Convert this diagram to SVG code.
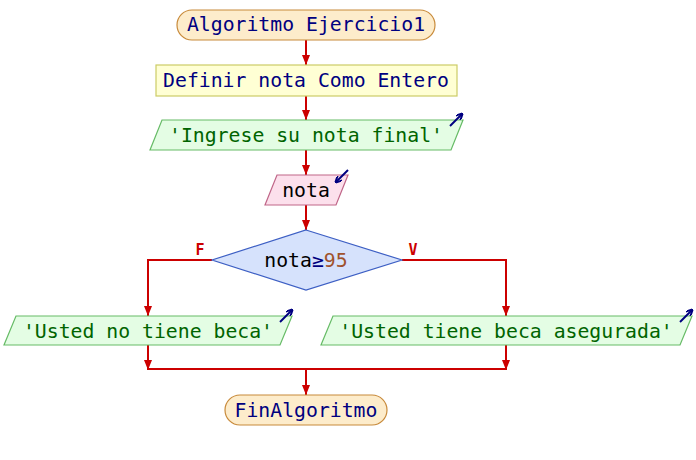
<svg xmlns="http://www.w3.org/2000/svg" width="696" height="460" viewBox="0 0 696 460">
<defs>
<marker id="ah" markerWidth="10" markerHeight="8" refX="10" refY="4" orient="auto" markerUnits="userSpaceOnUse">
<path d="M0,0 L10,4 L0,8 Z" fill="#cc0000"/>
</marker>
<marker id="io" markerWidth="7" markerHeight="7" refX="6" refY="3.5" orient="auto" markerUnits="userSpaceOnUse">
<path d="M0,0 L7,3.5 L0,7" fill="none" stroke="#000080" stroke-width="2"/>
</marker>
</defs>
<style>
text{font-family:"DejaVu Sans Mono","Liberation Mono",monospace;font-size:19.8px;text-anchor:middle}
.term{fill:#fdeccb;stroke:#c88a3a;stroke-width:1.2}
.def{fill:#ffffd4;stroke:#cccc66;stroke-width:1.2}
.out{fill:#e4fde4;stroke:#66bb66;stroke-width:1.2}
.inp{fill:#fce0ec;stroke:#c06688;stroke-width:1.2}
.dec{fill:#d6e2fc;stroke:#3d5fc4;stroke-width:1.2}
.navy{fill:#000080}
.green{fill:#006400}
.blk{fill:#000}
.ico{stroke:#000080;stroke-width:2;fill:none;marker-end:url(#io)}
.c{stroke:#cc0000;stroke-width:2;fill:none}
.ca{stroke:#cc0000;stroke-width:2;fill:none;marker-end:url(#ah)}
.lbl{fill:#cc0000;font-size:15px;font-weight:bold}
</style>
<g id="connectors">
<line class="ca" x1="306" y1="40" x2="306" y2="65"/>
<line class="ca" x1="306" y1="96" x2="306" y2="120"/>
<line class="ca" x1="306" y1="150" x2="306" y2="175"/>
<line class="ca" x1="306" y1="205" x2="306" y2="230"/>
<polyline class="ca" points="212,260 148,260 148,316"/>
<polyline class="ca" points="402,260 506,260 506,316"/>
<line class="ca" x1="148" y1="345" x2="148" y2="370"/>
<line class="ca" x1="506" y1="345" x2="506" y2="370"/>
<line class="c" x1="148" y1="369" x2="506" y2="369"/>
<line class="ca" x1="306" y1="369" x2="306" y2="395"/>
<text class="lbl" x="200" y="255">F</text>
<text class="lbl" x="413" y="255">V</text>
</g>
<g id="start">
<rect class="term" x="177" y="10" width="258" height="30" rx="15"/>
<text class="navy" x="306" y="31">Algoritmo Ejercicio1</text>
</g>
<g id="define">
<rect class="def" x="156" y="65" width="301" height="31"/>
<text class="navy" x="306" y="87">Definir nota Como Entero</text>
</g>
<g id="out1">
<polygon class="out" points="162,120 463,120 451,150 150,150"/>
<text class="green" x="306" y="142">'Ingrese su nota final'</text>
<line class="ico" x1="450" y1="126" x2="462" y2="114"/>
</g>
<g id="input">
<polygon class="inp" points="277,175 348,175 336,205 265,205"/>
<text class="blk" x="306" y="197">nota</text>
<line class="ico" x1="348" y1="170" x2="336" y2="182"/>
</g>
<g id="decision">
<polygon class="dec" points="306,230 402,260 306,290 212,260"/>
<text x="306" y="267"><tspan class="blk">nota</tspan><tspan class="navy">≥</tspan><tspan fill="#a0522d">95</tspan></text>
</g>
<g id="out2">
<polygon class="out" points="16,316 292,316 280,345 4,345"/>
<text class="green" x="148" y="338">'Usted no tiene beca'</text>
<line class="ico" x1="280" y1="322" x2="292" y2="310"/>
</g>
<g id="out3">
<polygon class="out" points="333,316 692,316 680,345 321,345"/>
<text class="green" x="506" y="338">'Usted tiene beca asegurada'</text>
<line class="ico" x1="680" y1="322" x2="692" y2="310"/>
</g>
<g id="end">
<rect class="term" x="225" y="395" width="162" height="30" rx="15"/>
<text class="navy" x="306" y="417">FinAlgoritmo</text>
</g>
</svg>
